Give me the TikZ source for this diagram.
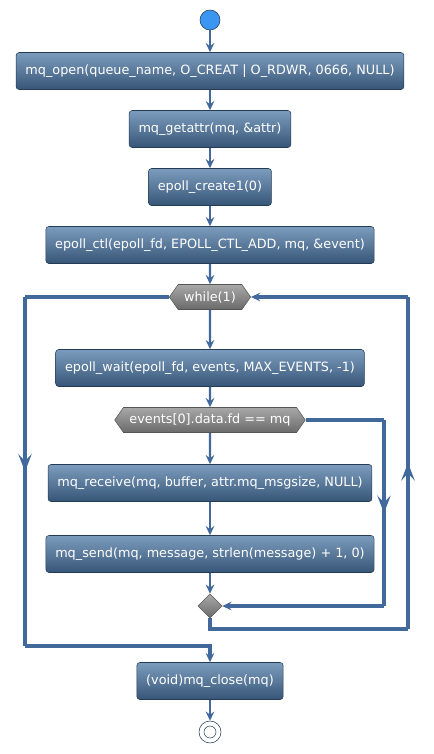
\documentclass[tikz,border=0pt]{standalone}
\usepackage{fontspec}
\setmainfont{DejaVu Sans}
\usetikzlibrary{arrows.meta,shapes.symbols,shapes.geometric,decorations.markings}

\definecolor{flow}{HTML}{41699C}
\definecolor{boxtop}{HTML}{7C9CBE}
\definecolor{boxbot}{HTML}{375677}
\definecolor{boxline}{HTML}{243B56}
\definecolor{hextop}{HTML}{A8A8A8}
\definecolor{hexbot}{HTML}{6A6A6A}
\definecolor{hexline}{HTML}{555555}
\definecolor{startfill}{HTML}{3A96F0}

\begin{document}
\begin{tikzpicture}[x=0.75pt,y=-0.75pt,
    action/.style={draw=boxline, top color=boxtop, bottom color=boxbot,
      rounded corners=2.25pt, minimum height=27.75pt, inner xsep=7pt,
      text=white, font=\fontsize{9.6}{11}\selectfont},
    test/.style={draw=hexline, top color=hextop, bottom color=hexbot,
      shape=signal, signal to=west and east, signal pointer angle=110,
      minimum height=18.75pt, inner xsep=4.5pt, inner ysep=0pt,
      text=white, font=\fontsize{9.6}{11}\selectfont},
    flowline/.style={draw=flow, line width=1.6pt,
      -{Stealth[length=7pt,width=6.5pt,inset=2.5pt]}},
    loopline/.style={draw=flow, line width=2.3pt},
    midarr/.style={postaction={decorate}, decoration={markings,
      mark=at position 0.5 with {\arrow{Stealth[length=13pt,width=10pt,inset=5pt]}}}}]
  \useasboundingbox (0,0) rectangle (434,754);

  \node[circle, draw=boxline, fill=startfill, minimum size=15pt, inner sep=0pt] (start) at (210,20) {};
  \node[action] (open) at (210,71) {mq\_open(queue\_name, O\_CREAT | O\_RDWR, 0666, NULL)};
  \node[action] (getattr) at (210,129) {mq\_getattr(mq, \&attr)};
  \node[action] (create) at (210,187) {epoll\_create1(0)};
  \node[action] (ctl) at (210,245) {epoll\_ctl(epoll\_fd, EPOLL\_CTL\_ADD, mq, \&event)};
  \node[test] (while) at (210,297) {while(1)};
  \node[action] (wait) at (210,368) {epoll\_wait(epoll\_fd, events, MAX\_EVENTS, -1)};
  \node[test] (check) at (210,420) {events[0].data.fd == mq};
  \node[action] (recv) at (210,483) {mq\_receive(mq, buffer, attr.mq\_msgsize, NULL)};
  \node[action] (send) at (210,554) {mq\_send(mq, message, strlen(message) + 1, 0)};
  \node[diamond, draw=hexline, top color=hextop, bottom color=hexbot, minimum size=18pt, inner sep=0pt] (merge) at (210,606) {};
  \node[action] (close) at (210,681) {(void)mq\_close(mq)};
  \node[circle, draw=boxline, minimum size=16.5pt, inner sep=0pt] (stop) at (210,732) {};
  \node[circle, draw=boxline, minimum size=9pt, inner sep=0pt] (stopin) at (210,732) {};

  \coordinate (lt) at (25,297);
  \coordinate (lb) at (25,646);
  \coordinate (rt) at (408,297);
  \coordinate (rb) at (408,629);
  \coordinate (ct) at (384,420);
  \coordinate (cb) at (384,606);

  \begin{scope}[flowline]
    \draw (start) to (open);
    \draw (open) to (getattr);
    \draw (getattr) to (create);
    \draw (create) to (ctl);
    \draw (ctl) to (while);
    \draw (while) to (wait);
    \draw (wait) to (check);
    \draw (check) to (recv);
    \draw (recv) to (send);
    \draw (send) to (merge);
    \draw (close) to (stop);
  \end{scope}
  \begin{scope}[loopline]
    \draw (while.west) -- (lt);
    \draw[midarr] (lt) -- (lb);
    \draw[-{Stealth[length=7pt,width=6.5pt,inset=2.5pt]}] (lb) -| (close.north);
    \draw (merge.south) |- (rb);
    \draw[midarr] (rb) -- (rt);
    \draw[-{Stealth[length=7pt,width=6.5pt,inset=2.5pt]}] (rt) -- (while.east);
    \draw (check.east) -- (ct);
    \draw[midarr] (ct) -- (cb);
    \draw[-{Stealth[length=7pt,width=6.5pt,inset=2.5pt]}] (cb) -- (merge.east);
  \end{scope}
\end{tikzpicture}
\end{document}
